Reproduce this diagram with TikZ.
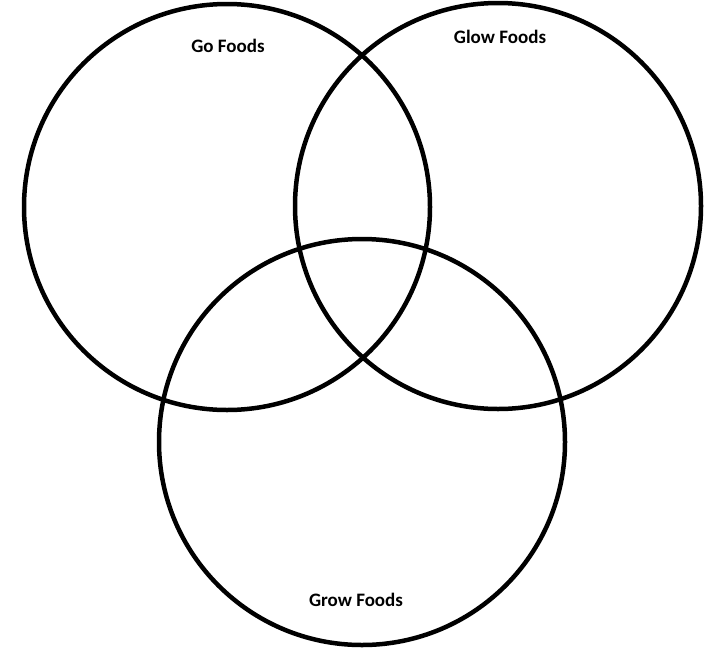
\documentclass[tikz,border=0pt]{standalone}
\usepackage{fontspec}
\setmainfont{Carlito}
\definecolor{ring}{HTML}{000000}

\begin{document}
\begin{tikzpicture}[x=1pt,y=-1pt,
  setcircle/.style={circle,draw=ring,line width=4.5pt,minimum size=406pt,inner sep=0pt},
  setlabel/.style={font=\bfseries\fontsize{19pt}{21pt}\selectfont,text=ring}]
\useasboundingbox (0,0) rectangle (711,656);
\node[setcircle] (go) at (227,207) {};
\node[setcircle] (glow) at (498,206) {};
\node[setcircle] (grow) at (362,442) {};
\node[setlabel] (golabel) at (228,46) {Go Foods};
\node[setlabel] (glowlabel) at (500,37) {Glow Foods};
\node[setlabel] (growlabel) at (356,600) {Grow Foods};
\end{tikzpicture}
\end{document}
